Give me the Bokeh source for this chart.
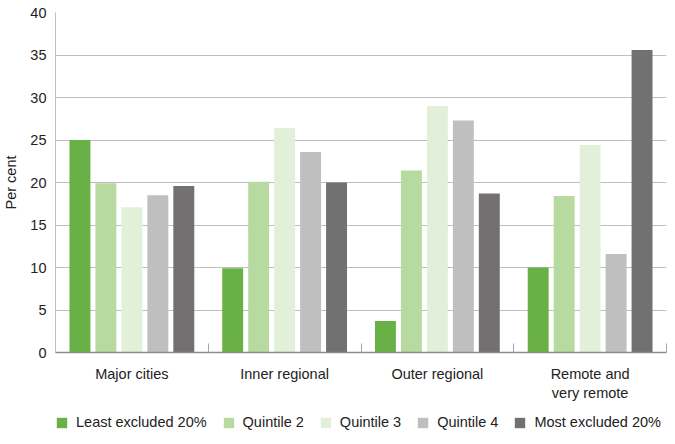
from bokeh.plotting import figure
from bokeh.models import (ColumnDataSource, Range1d, FixedTicker, Legend, LegendItem,
                          LinearAxis)
from bokeh.layouts import column
from bokeh.embed import file_html
from bokeh.resources import INLINE

categories = ["Major cities", "Inner regional", "Outer regional", "Remote and\nvery remote"]
series = ["Least excluded 20%", "Quintile 2", "Quintile 3", "Quintile 4", "Most excluded 20%"]
least_excluded = [25.0, 9.9, 3.7, 10.0]
quintile_2 = [19.9, 20.1, 21.4, 18.4]
quintile_3 = [17.1, 26.4, 29.0, 24.4]
quintile_4 = [18.5, 23.6, 27.3, 11.6]
most_excluded = [19.6, 20.0, 18.7, 35.6]
y_ticks = [0, 5, 10, 15, 20, 25, 30, 35, 40]

values = [least_excluded, quintile_2, quintile_3, quintile_4, most_excluded]
colors = ["#69b046", "#b7daa0", "#e2f0da", "#bfbfbf", "#727071"]

FONT = "Liberation Sans"
TEXT = "#222222"
FS = "14.5px"

p = figure(frame_width=611, frame_height=340, output_backend="svg", toolbar_location=None,
           x_range=Range1d(0, len(categories)), y_range=Range1d(0, 40),
           min_border_left=54, min_border_right=2, min_border_top=12, min_border_bottom=56,
           x_axis_type=None)
p.outline_line_color = None
p.background_fill_color = "white"
p.border_fill_color = "white"

step = 0.17
bar_w = 0.137
sources = []
for j, (name, vals, col) in enumerate(zip(series, values, colors)):
    xs = [i + 0.5 + (j - 2) * step for i in range(len(categories))]
    src = ColumnDataSource(dict(x=xs, top=vals))
    sources.append(src)
    p.vbar(x="x", top="top", width=bar_w, bottom=0, source=src,
           fill_color=col, line_color=None)

# x axis
xaxis = LinearAxis()
centers = [i + 0.5 for i in range(len(categories))]
xaxis.ticker = FixedTicker(ticks=centers, minor_ticks=list(range(len(categories) + 1)))
xaxis.major_label_overrides = {c: lab for c, lab in zip(centers, categories)}
xaxis.major_tick_in = 0
xaxis.major_tick_out = 0
xaxis.minor_tick_in = 9
xaxis.minor_tick_out = 0
xaxis.minor_tick_line_color = "#a6a6a6"
xaxis.axis_line_color = "#8c8c8c"
xaxis.axis_line_width = 1.3
xaxis.major_label_text_font = FONT
xaxis.major_label_text_font_size = FS
xaxis.major_label_text_color = TEXT
xaxis.major_label_standoff = 13
xaxis.axis_label_standoff = 0
p.add_layout(xaxis, "below")

# y axis
yaxis = p.yaxis[0]
yaxis.ticker = FixedTicker(ticks=y_ticks)
yaxis.major_tick_in = 0
yaxis.major_tick_out = 0
yaxis.minor_tick_line_color = None
yaxis.axis_line_color = "#bfbfbf"
yaxis.major_label_text_font = FONT
yaxis.major_label_text_font_size = FS
yaxis.major_label_text_color = TEXT
yaxis.major_label_standoff = 9
yaxis.axis_label = "Per cent"
yaxis.axis_label_text_font = FONT
yaxis.axis_label_text_font_size = FS
yaxis.axis_label_text_font_style = "normal"
yaxis.axis_label_text_color = TEXT
yaxis.axis_label_standoff = 8

p.ygrid.grid_line_color = "#bfbfbf"
p.ygrid.ticker = FixedTicker(ticks=y_ticks)
p.xgrid.grid_line_color = None

# legend strip
p2 = figure(width=667, height=28, output_backend="svg", toolbar_location=None,
            x_range=Range1d(0, 1), y_range=Range1d(0, 1),
            x_axis_type=None, y_axis_type=None,
            min_border_left=0, min_border_right=0, min_border_top=0, min_border_bottom=0)
p2.outline_line_color = None
p2.xgrid.grid_line_color = None
p2.ygrid.grid_line_color = None
leg_renderers = []
for src, col in zip(sources, colors):
    r = p2.vbar(x="x", top="top", width=bar_w, bottom=0, source=src,
                fill_color=col, line_color=None, visible=False)
    leg_renderers.append(r)

legend = Legend(items=[LegendItem(label=s, renderers=[r]) for s, r in zip(series, leg_renderers)],
                orientation="horizontal", location=(0, 6),
                glyph_width=13, glyph_height=13, label_height=13,
                label_standoff=8, spacing=15, padding=0, margin=0,
                border_line_color=None, background_fill_alpha=0,
                inactive_fill_alpha=0,
                label_text_font=FONT, label_text_font_size=FS,
                label_text_color=TEXT)
p2.add_layout(legend, "center")

layout = column(p, p2, spacing=0)
open("out.html", "w").write(file_html(layout, INLINE))
